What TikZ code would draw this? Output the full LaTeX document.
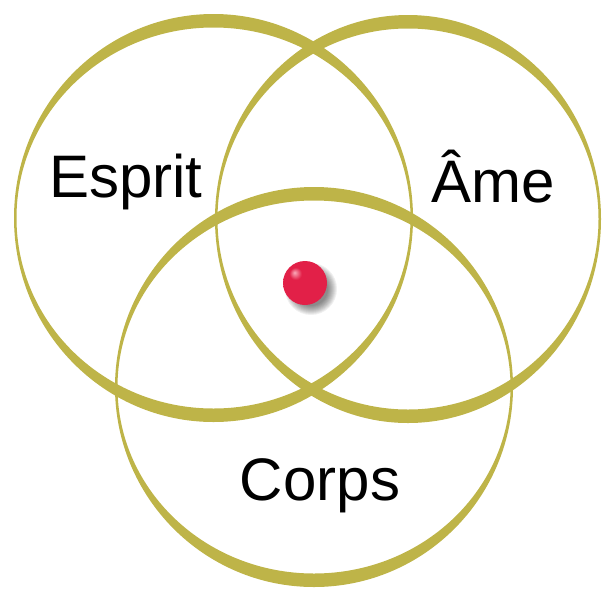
\documentclass[tikz,border=0pt]{standalone}
\usepackage{fontspec}
\setmainfont{Liberation Sans}

\definecolor{ringgold}{RGB}{190,180,72}
\definecolor{ballhi}{RGB}{250,170,185}
\definecolor{ballred}{RGB}{226,32,72}
\definecolor{balldark}{RGB}{160,16,45}
\pgfdeclareradialshading{redball}{\pgfpoint{-12bp}{12bp}}{color(0bp)=(ballhi); color(7bp)=(ballred); color(38bp)=(ballred); color(58bp)=(balldark); color(70bp)=(balldark)}

\begin{document}
\begin{tikzpicture}[x=1pt, y=-1pt, ring/.style={fill=ringgold, even odd rule}, word/.style={font=\fontsize{60}{62}\selectfont, anchor=base, inner sep=0pt}]
\useasboundingbox (0,0) rectangle (609,595);
\coordinate (esprit) at (213.5,218);
\coordinate (ame) at (408,219);
\coordinate (corps) at (314,387);
\fill[ring] (esprit) ellipse [x radius=199.5pt, y radius=204pt] (esprit) ellipse [x radius=197pt, y radius=190.5pt];
\fill[ring] (ame) ellipse [x radius=193pt, y radius=204pt] (ame) ellipse [x radius=190.5pt, y radius=190.5pt];
\fill[ring] (corps) ellipse [x radius=199pt, y radius=200pt] (corps) ellipse [x radius=196.5pt, y radius=186.5pt];
\node[word] (lblesprit) at (126,197) {Esprit};
\node[word] (lblame) at (493,202) {Âme};
\node[word] (lblcorps) at (320,500) {Corps};
% soft shadow under the ball
\foreach \r in {17,...,26}
  \fill[black, opacity=0.06] (311,289) circle (\r pt);
\node[circle, inner sep=0pt, minimum size=44pt, shading=redball] (dot) at (305,283) {};
\end{tikzpicture}
\end{document}
